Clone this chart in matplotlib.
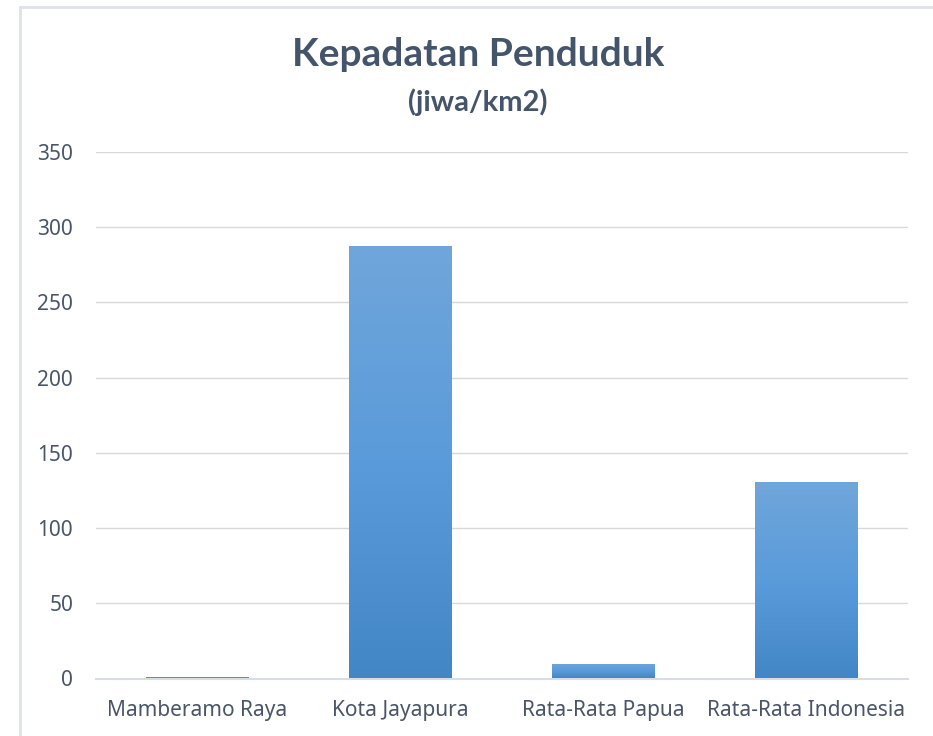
import matplotlib
matplotlib.use("Agg")
import matplotlib.pyplot as plt
import numpy as np
from matplotlib.colors import LinearSegmentedColormap
from matplotlib.patches import Rectangle

categories = ["Mamberamo Raya", "Kota Jayapura", "Rata-Rata Papua", "Rata-Rata Indonesia"]
values = [1, 287.5, 9.6, 130.6]
yticks = [0, 50, 100, 150, 200, 250, 300, 350]

plt.rcParams['font.family'] = ['Noto Sans', 'DejaVu Sans']

fig = plt.figure(figsize=(9.33, 7.36), dpi=100)
W, H = 933, 736
ax = fig.add_axes([96 / W, 1 - 678.5 / H, (908 - 96) / W, (678.5 - 152) / H])

# frame around chart
fig.patches.append(Rectangle((20 / W, -0.01), 1.02, 1 - 6.5 / H + 0.01, transform=fig.transFigure,
                             fill=False, edgecolor="#DEE2E9", linewidth=2))

x = np.arange(len(categories))
bars = ax.bar(x, values, width=0.507, color="none", edgecolor="none", zorder=3)

cmap = LinearSegmentedColormap.from_list("g", ["#4386C6", "#5A9BDB", "#70A6DA"])
grad = np.linspace(0, 1, 256).reshape(-1, 1)
for b in bars:
    x0, y0 = b.get_x(), b.get_y()
    w, h = b.get_width(), b.get_height()
    im = ax.imshow(grad, cmap=cmap, aspect="auto", origin="lower",
                   extent=[x0, x0 + w, y0, y0 + h], zorder=3, interpolation="bilinear")
    im.set_clip_path(b)

ax.set_xlim(-0.5, len(categories) - 0.5)
ax.set_ylim(0, 350)
ax.set_yticks(yticks)
ax.set_xticks(x)
ax.set_xticklabels(categories)
ax.grid(axis="y", color="#D9D9D9", linewidth=1, zorder=0)
ax.set_axisbelow(True)
for s in ["top", "right", "left"]:
    ax.spines[s].set_visible(False)
ax.spines["bottom"].set_color("#D9DDE3")
ax.spines["bottom"].set_linewidth(1.5)
ax.tick_params(axis="both", length=0, labelsize=15, colors="#4A5568")
ax.tick_params(axis="y", pad=16.5)
ax.tick_params(axis="x", pad=15.5)

fig.text(478 / W, 1 - 55 / H, "Kepadatan Penduduk", ha="center", va="center",
         fontsize=28, fontweight="bold", color="#44546A", family=["Lato", "DejaVu Sans"])
fig.text(478 / W, 1 - 102 / H, "(jiwa/km2)", ha="center", va="center",
         fontsize=21, fontweight="bold", color="#44546A", family=["Lato", "DejaVu Sans"])

fig.savefig("out.png", dpi=100)
